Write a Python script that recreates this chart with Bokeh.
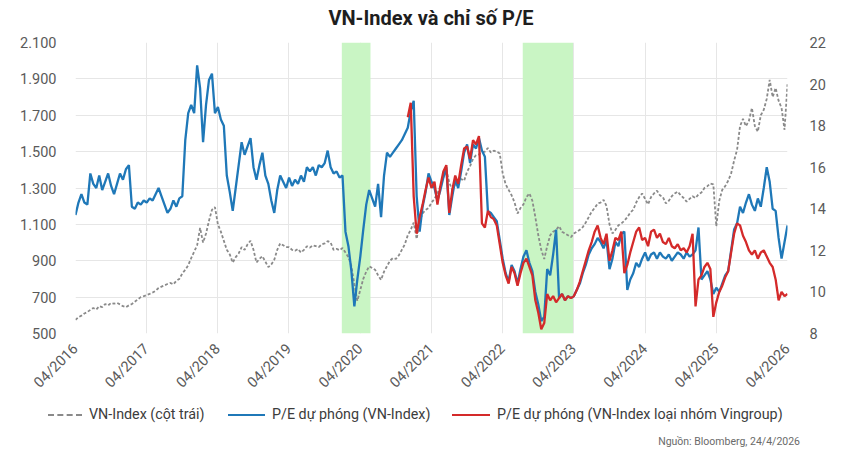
from math import pi

import pandas as pd
from bokeh.embed import file_html
from bokeh.layouts import column
from bokeh.models import BoxAnnotation, DatetimeTickFormatter, Div, FixedTicker, LinearAxis, Range1d
from bokeh.plotting import figure
from bokeh.resources import INLINE

# Half-monthly observations, 24/4/2016 -> 24/4/2026
dates = pd.date_range("2016-04-24", "2026-04-24", periods=241)

# VN-Index (left axis)
vn_index = [
    575, 590, 598, 610, 618, 630, 640, 632, 650, 645, 662, 655, 668, 664, 668, 660, 650, 645, 655, 662, 675, 688, 700, 705,
    712, 718, 725, 735, 750, 758, 765, 772, 778, 770, 790, 800, 830, 850, 875, 915, 950, 985, 1080, 1000, 1050, 1120, 1180, 1195,
    1100, 1060, 1010, 960, 935, 890, 920, 940, 975, 960, 990, 1010, 960, 890, 910, 925, 895, 865, 880, 905, 960, 995, 985, 975,
    975, 960, 955, 965, 945, 960, 980, 972, 985, 980, 975, 990, 995, 1008, 1000, 960, 965, 958, 970, 945, 920, 870, 770, 680,
    740, 800, 840, 870, 860, 850, 820, 795, 840, 870, 900, 915, 910, 930, 960, 990, 1040, 1070, 1110, 1020, 1120, 1160, 1180, 1190,
    1220, 1240, 1270, 1310, 1360, 1400, 1330, 1290, 1320, 1340, 1350, 1340, 1390, 1420, 1460, 1480, 1485, 1495, 1500, 1520, 1495, 1505, 1500, 1490,
    1380, 1320, 1290, 1260, 1220, 1160, 1190, 1210, 1250, 1270, 1230, 1140, 1040, 960, 910, 980, 1040, 1060, 1070, 1090, 1060, 1050, 1040, 1030,
    1050, 1060, 1070, 1085, 1110, 1140, 1170, 1190, 1215, 1220, 1235, 1200, 1100, 1050, 1070, 1095, 1105, 1120, 1140, 1165, 1180, 1220, 1250, 1270,
    1240, 1210, 1250, 1270, 1285, 1260, 1250, 1215, 1230, 1255, 1270, 1280, 1260, 1245, 1225, 1240, 1255, 1245, 1265, 1275, 1300, 1310, 1325, 1320,
    1090, 1230, 1290, 1310, 1340, 1380, 1450, 1510, 1640, 1680, 1640, 1670, 1740, 1640, 1610, 1700, 1730, 1790, 1895, 1800, 1850, 1780, 1740, 1620, 1870,
]

# Forward P/E of the VN-Index (right axis)
pe_vnindex = [
    13.7, 14.3, 14.7, 14.3, 14.2, 15.7, 15.2, 15.0, 15.6, 14.9, 15.3, 15.7, 15.1, 14.7, 15.2, 15.7, 15.4, 15.9, 16.1, 14.1, 14.0, 14.3, 14.2, 14.4,
    14.3, 14.5, 14.4, 14.7, 15.0, 14.6, 14.2, 13.8, 14.0, 14.4, 14.1, 14.5, 14.6, 17.3, 18.6, 19.0, 18.6, 20.9, 19.8, 17.2, 19.0, 20.2, 20.5, 18.6,
    18.9, 18.3, 18.0, 15.6, 14.8, 13.9, 15.0, 16.1, 17.2, 16.6, 17.0, 17.4, 16.0, 15.4, 16.1, 16.7, 15.6, 15.2, 14.4, 13.8, 14.9, 15.6, 15.3, 15.0,
    15.5, 15.1, 15.4, 15.2, 15.6, 15.3, 16.0, 15.8, 16.0, 15.6, 16.1, 16.0, 16.2, 16.8, 16.0, 15.7, 15.8, 15.5, 15.6, 12.9, 12.2, 11.0, 9.3, 10.6,
    11.7, 13.0, 14.2, 14.9, 14.5, 14.1, 15.2, 13.6, 15.6, 16.7, 16.5, 16.7, 16.9, 17.1, 17.3, 17.6, 17.9, 18.7, 19.2, 14.6, 12.9, 14.1, 14.8, 15.7,
    15.3, 15.0, 14.4, 14.9, 15.5, 16.0, 13.7, 14.6, 15.4, 15.0, 15.8, 16.7, 17.1, 16.2, 17.1, 16.9, 17.4, 16.8, 16.5, 13.9, 13.8, 13.6, 13.4, 12.5,
    11.6, 10.9, 10.5, 11.3, 11.0, 10.4, 11.1, 11.7, 12.0, 11.4, 11.0, 10.0, 9.4, 8.6, 8.8, 11.1, 10.8, 11.8, 13.0, 9.7, 9.9, 9.6, 9.8, 9.7,
    9.8, 10.1, 10.4, 10.9, 11.3, 11.8, 12.1, 12.3, 12.6, 12.4, 12.1, 12.5, 11.1, 11.6, 12.4, 12.2, 12.8, 12.9, 10.1, 10.6, 10.9, 11.4, 11.2, 11.6,
    11.9, 11.5, 11.8, 11.9, 11.6, 11.9, 11.7, 11.6, 11.8, 11.5, 11.7, 11.9, 11.8, 11.6, 11.9, 11.7, 11.8, 12.0, 13.1, 10.6, 10.8, 11.0, 10.6, 9.9,
    10.2, 10.0, 10.4, 10.8, 11.0, 12.0, 13.0, 13.3, 14.1, 13.8, 14.3, 14.7, 14.2, 13.9, 14.5, 14.1, 15.0, 16.0, 15.3, 14.0, 13.9, 12.6, 11.6, 12.4, 13.2,
]

# Forward P/E excluding the Vingroup names, available from December 2020
pe_ex_vingroup_start = 112
pe_ex_vingroup = [
    18.4, 19.1, 14.6, 12.8, 13.6, 14.2, 14.9, 15.5,
    15.0, 15.3, 14.2, 15.1, 15.8, 16.1, 13.8, 14.9, 15.6, 15.2, 16.1, 16.9, 17.0, 16.4, 17.3, 17.1, 17.5, 13.3, 13.1, 13.9, 13.6, 13.5, 13.2, 12.3,
    11.4, 10.8, 10.4, 11.2, 10.9, 10.3, 10.9, 11.4, 11.6, 11.2, 10.8, 9.6, 9.0, 8.2, 8.5, 9.9, 9.6, 9.8, 9.5, 9.7, 9.9, 9.6, 9.8, 9.7,
    9.8, 10.1, 10.5, 11.0, 11.5, 12.0, 12.4, 12.9, 13.2, 12.6, 12.3, 12.8, 11.5, 12.0, 12.6, 12.5, 12.9, 10.9, 11.3, 11.9, 12.4, 12.9, 13.1, 12.5,
    12.6, 12.2, 12.9, 13.0, 12.6, 12.8, 12.4, 12.3, 12.6, 12.2, 12.1, 12.3, 12.0, 12.1, 11.9, 12.2, 12.8, 9.3, 10.6, 10.8, 11.2, 11.4, 11.1, 8.8,
    9.5, 10.0, 10.3, 10.7, 11.0, 11.9, 12.8, 13.3, 13.2, 12.7, 12.4, 12.0, 11.8, 12.0, 11.6, 11.9, 12.0, 11.7, 11.4, 11.2, 10.6, 9.6, 10.0, 9.8, 9.9,
]

# Highlighted periods
band_starts = ["2020-01-20", "2022-08-05"]
band_ends = ["2020-06-15", "2023-04-20"]

left_ticks = [500, 700, 900, 1100, 1300, 1500, 1700, 1900, 2100]
right_ticks = [8, 10, 12, 14, 16, 18, 20, 22]
year_ticks = [pd.Timestamp(f"{y}-04-24") for y in range(2016, 2027)]

series_labels = ["VN-Index (cột trái)", "P/E dự phóng (VN-Index)",
                 "P/E dự phóng (VN-Index loại nhóm Vingroup)"]
title_text = "VN-Index và chỉ số P/E"
source_text = "Nguồn: Bloomberg, 24/4/2026"

FONT = "Roboto"
TICK_COLOR = "#5a5a5a"
GRAY, BLUE, RED = "#8a8a8a", "#1f78b8", "#d42a2a"
W = 845

# ---- title strip
header = Div(
    width=W, height=30, margin=(0, 0, 0, 0),
    text=(f'<div style="position:relative;width:{W}px;height:30px;background:white;">'
          f'<span style="position:absolute;left:0;width:862px;top:6px;line-height:24px;'
          f'text-align:center;font-family:{FONT};font-size:20px;font-weight:bold;color:#1e1e1e;">'
          f'{title_text}</span></div>'),
)

# ---- main chart
p = figure(
    frame_width=712, frame_height=291, x_axis_type="datetime",
    output_backend="svg", toolbar_location=None,
    x_range=Range1d(dates[0], dates[-1]), y_range=Range1d(500, 2100),
    min_border_left=75, min_border_right=58, min_border_top=12, min_border_bottom=62,
)
p.extra_y_ranges = {"pe": Range1d(8, 22)}
p.outline_line_color = None
p.background_fill_color = "white"
p.border_fill_color = "white"

for s, e in zip(band_starts, band_ends):
    p.add_layout(BoxAnnotation(left=pd.Timestamp(s), right=pd.Timestamp(e),
                               fill_color="#c9f5c4", fill_alpha=1.0, line_color=None, level="underlay"))

p.line(dates, vn_index, line_color=GRAY, line_width=1.8, line_dash="3 2")
p.line(dates, pe_vnindex, line_color=BLUE, line_width=2.3, y_range_name="pe")
p.line(dates[pe_ex_vingroup_start:], pe_ex_vingroup, line_color=RED, line_width=2.3, y_range_name="pe")

p.xaxis.ticker = FixedTicker(ticks=[t.value / 1e6 for t in year_ticks])
p.xaxis.formatter = DatetimeTickFormatter(days="%m/%Y", months="%m/%Y", years="%m/%Y")
p.xaxis.major_label_orientation = pi / 4
p.yaxis.ticker = FixedTicker(ticks=left_ticks)
p.yaxis.major_label_overrides = {v: f"{v:,}".replace(",", ".") for v in left_ticks}

right_axis = LinearAxis(y_range_name="pe", ticker=FixedTicker(ticks=right_ticks))
p.add_layout(right_axis, "right")

for ax in [p.xaxis[0], p.yaxis[0], right_axis]:
    ax.axis_line_color = None
    ax.major_tick_line_color = None
    ax.minor_tick_line_color = None
    ax.major_label_text_font = FONT
    ax.major_label_text_font_size = "14.5px"
    ax.major_label_text_color = TICK_COLOR
p.xaxis.major_label_standoff = 7
p.yaxis[0].major_label_standoff = 13
right_axis.major_label_standoff = 16

p.xgrid.ticker = FixedTicker(ticks=[t.value / 1e6 for t in year_ticks])
p.ygrid.ticker = FixedTicker(ticks=left_ticks)
p.xgrid.grid_line_color = "#e6e6e6"
p.ygrid.grid_line_color = "#e6e6e6"

# ---- key and source strip
key_samples = [(48, 34), (228, 37), (452, 38)]  # left edge, sample length
key_strokes = [f"2px dashed {GRAY}", f"2.5px solid {BLUE}", f"2.5px solid {RED}"]
items = []
for (left, length), stroke, label in zip(key_samples, key_strokes, series_labels):
    items.append(
        f'<span style="position:absolute;left:{left}px;top:14px;width:{length}px;height:0;'
        f'border-top:{stroke};"></span>'
        f'<span style="position:absolute;left:{left + length + 7}px;top:4px;line-height:20px;'
        f'white-space:nowrap;font-family:{FONT};font-size:14.3px;color:#3c3c3c;">{label}</span>'
    )
items.append(
    f'<span style="position:absolute;right:45px;top:35px;line-height:14px;white-space:nowrap;'
    f'font-family:{FONT};font-size:10.5px;color:#6a6a6a;">{source_text}</span>'
)
footer = Div(
    width=W, height=57, margin=(0, 0, 0, 0),
    text=f'<div style="position:relative;width:{W}px;height:57px;background:white;">{"".join(items)}</div>',
)

layout = column(header, p, footer, spacing=0)
open("out.html", "w").write(file_html(layout, INLINE))
